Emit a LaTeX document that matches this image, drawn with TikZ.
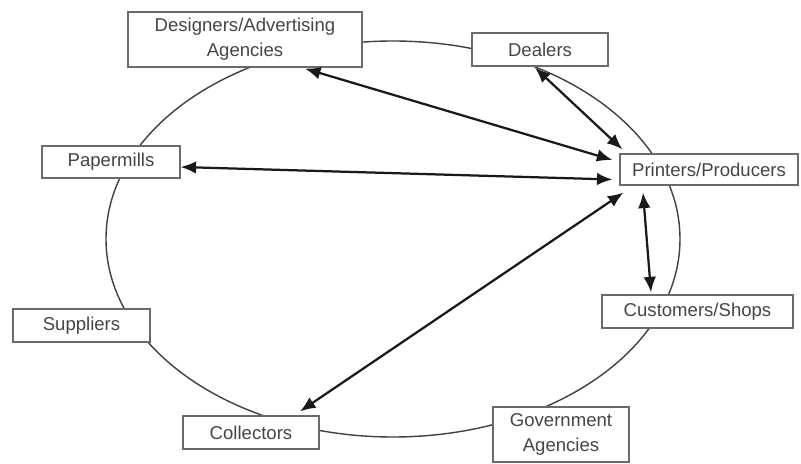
\documentclass[tikz,border=0pt]{standalone}
\usepackage{fontspec}
\setmainfont{Liberation Sans}
\usetikzlibrary{arrows.meta,calc}
\newlength\pxu
\setlength\pxu{0.025cm}
\definecolor{boxline}{HTML}{6A6A6A}
\definecolor{labeltext}{HTML}{454545}
\tikzset{
  box/.style={draw=boxline, line width=0.9pt, fill=white, inner sep=0pt,
    align=center, text=labeltext, font=\fontsize{13.2}{17.5}\selectfont},
  link/.style={line width=1.6pt, draw=black!90,
    {Latex[length=11pt,width=9pt]}-{Latex[length=11pt,width=9pt]}},
  ring/.style={draw=black!75, line width=1pt}
}
\begin{document}
\begin{tikzpicture}[x=\pxu,y=-\pxu]
\useasboundingbox (0,0) rectangle (801,464);
% the surrounding cycle
\draw[ring] (393,239) ellipse [x radius=287, y radius=198];
% participants
\node[box, minimum width=234\pxu, minimum height=55\pxu] (des) at (245,39.5) {Designers/Advertising\\Agencies};
\node[box, minimum width=136\pxu, minimum height=33\pxu] (deal) at (540,49.5) {Dealers};
\node[box, minimum width=138\pxu, minimum height=32\pxu] (pap) at (111,162) {Papermills};
\node[box, minimum width=178\pxu, minimum height=31\pxu] (pp) at (709,169.5) {Printers/Producers};
\node[box, minimum width=137\pxu, minimum height=33\pxu] (sup) at (81.5,325.5) {Suppliers};
\node[box, minimum width=191\pxu, minimum height=33\pxu] (cus) at (697.5,311.5) {Customers/Shops};
\node[box, minimum width=136\pxu, minimum height=33\pxu] (col) at (251,432.5) {Collectors};
\node[box, minimum width=136\pxu, minimum height=55\pxu] (gov) at (561,434.5) {Government\\Agencies};
% exchanges with the printers
\draw[link] ($(des.south)+(60,1)$) -- ($(pp.west)+(-7,-9.5)$);
\draw[link] ($(deal.south)+(-5,1)$) -- ($(pp.north west)+(3,-4)$);
\draw[link] ($(pap.east)+(0,5)$) -- ($(pp.west)+(-7,10)$);
\draw[link] ($(col.north)+(49,-4)$) -- ($(pp.south west)+(4,7)$);
\draw[link] ($(pp.south)+(-66,7)$) -- ($(cus.north)+(-46.5,-2)$);
\end{tikzpicture}
\end{document}
